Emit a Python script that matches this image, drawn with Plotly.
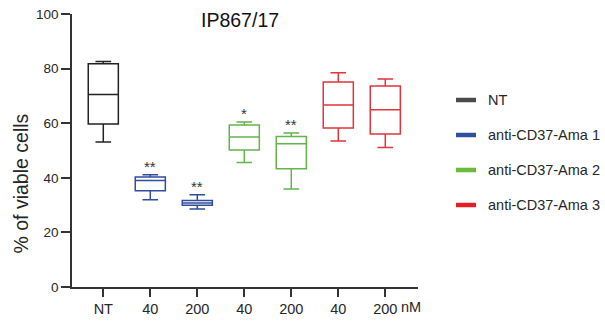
import plotly.graph_objects as go

# ---- data ----
tick_labels = ["NT", "40", "200", "40", "200", "40", "200"]
groups = ["NT", "anti-CD37-Ama 1", "anti-CD37-Ama 2", "anti-CD37-Ama 3"]
group_positions = [[0], [1, 2], [3, 4], [5, 6]]

lower_whisker = [[53.1], [32.0, 28.6], [45.6, 35.9], [53.5, 51.1]]
q1_values     = [[59.7], [35.3, 29.9], [50.2, 43.3], [58.2, 56.0]]
medians       = [[70.5], [39.0, 30.8], [54.9, 52.5], [66.7, 64.9]]
q3_values     = [[81.8], [40.3, 31.7], [59.3, 55.1], [75.1, 73.6]]
upper_whisker = [[82.6], [41.1, 33.8], [60.4, 56.4], [78.5, 76.2]]

significance_pos = [1, 2, 3, 4]
significance_txt = ["**", "**", "*", "**"]
significance_ref = [41.1, 33.8, 60.4, 56.4]  # upper whisker of the marked boxes

box_colors = ["#222222", "#2F4D9C", "#62B548", "#E0353B"]
legend_colors = ["#4a4a4a", "#2F4FA0", "#6ABB3A", "#E31E24"]

FONT = "Arial, Liberation Sans, sans-serif"
TXT = "#262626"

fig = go.Figure()
for g, pos, lo, q1, md, q3, hi, col in zip(groups, group_positions, lower_whisker,
                                           q1_values, medians, q3_values,
                                           upper_whisker, box_colors):
    fig.add_trace(go.Box(
        x=pos, q1=q1, median=md, q3=q3, lowerfence=lo, upperfence=hi,
        name=g, width=0.64, whiskerwidth=0.52,
        line=dict(color=col, width=1.5), fillcolor="rgba(0,0,0,0)",
        boxpoints=False, showlegend=False, hoverinfo="skip",
    ))

# plot area geometry (pixels)
L, R, T, B = 72, 418, 14, 287
W, H = 605, 325

def px_x(p):
    return (p - L) / (R - L)

def px_y(p):
    return (B - p) / (B - T)

shapes = []
annotations = []
for xp, txt, ref in zip(significance_pos, significance_txt, significance_ref):
    annotations.append(dict(x=xp, y=ref, xref="x", yref="y", text=txt,
                            showarrow=False, xanchor="center", yanchor="bottom",
                            yshift=-2,
                            font=dict(family=FONT, size=15, color="#333333")))

for i, (g, c) in enumerate(zip(groups, legend_colors)):
    yy = 100 + 35 * i
    shapes.append(dict(type="line", xref="paper", yref="paper",
                       x0=px_x(456), x1=px_x(476), y0=px_y(yy), y1=px_y(yy),
                       line=dict(color=c, width=4.5)))
    annotations.append(dict(xref="paper", yref="paper", x=px_x(486), y=px_y(yy),
                            text=g, showarrow=False, xanchor="left", yanchor="middle",
                            font=dict(family=FONT, size=14.5, color=TXT)))

annotations.append(dict(xref="paper", yref="paper", x=px_x(411), y=px_y(306.5),
                        text="nM", showarrow=False, xanchor="center", yanchor="middle",
                        font=dict(family=FONT, size=14.5, color=TXT)))
annotations.append(dict(xref="paper", yref="paper", x=px_x(20), y=px_y(183.5),
                        text="% of viable cells", textangle=-90, showarrow=False,
                        xanchor="center", yanchor="middle",
                        font=dict(family=FONT, size=19.5, color=TXT)))
annotations.append(dict(xref="paper", yref="paper", x=px_x(240), y=px_y(19.5),
                        text="IP867/17", showarrow=False,
                        xanchor="center", yanchor="middle",
                        font=dict(family=FONT, size=19.5, color="#111111")))

fig.update_layout(
    width=W, height=H,
    margin=dict(l=L, r=W - R, t=T, b=H - B, pad=0, autoexpand=False),
    paper_bgcolor="white", plot_bgcolor="white",
    showlegend=False,
    shapes=shapes, annotations=annotations,
    xaxis=dict(range=[-0.666, 6.696], tickmode="array", automargin=False,
               tickvals=list(range(len(tick_labels))), ticktext=tick_labels,
               showgrid=False, zeroline=False, showline=True,
               linecolor="#333333", linewidth=1.5,
               ticks="outside", ticklen=8, tickwidth=1.5, tickcolor="#333333",
               tickfont=dict(family=FONT, size=14.5, color=TXT)),
    yaxis=dict(range=[0, 100], tickmode="array", tickvals=[0, 20, 40, 60, 80, 100],
               automargin=False,
               showgrid=False, zeroline=False, showline=True,
               linecolor="#333333", linewidth=1.5,
               ticks="outside", ticklen=9, tickwidth=1.5, tickcolor="#333333",
               tickfont=dict(family=FONT, size=13.5, color=TXT)),
)

fig.write_html(
    "out.html",
    config={"displayModeBar": False},
    post_script="document.body.style.margin='0';document.body.style.overflow='hidden';",
)
